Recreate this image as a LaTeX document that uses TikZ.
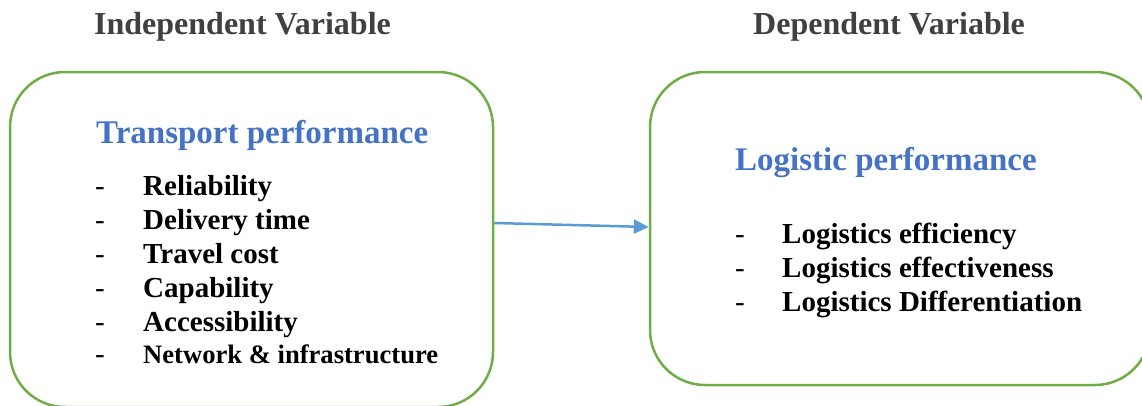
\documentclass[tikz,border=0pt]{standalone}
\usepackage{fontspec}
\setmainfont{Liberation Serif}
\usetikzlibrary{arrows.meta}
\definecolor{boxgreen}{HTML}{70AD47}
\definecolor{arrowblue}{HTML}{5B9BD5}
\definecolor{titleblue}{HTML}{4472C4}
\definecolor{headgray}{HTML}{404040}
\tikzset{
  panel/.style={draw=boxgreen, line width=2.5pt, rounded corners=55pt, inner sep=0pt},
  heading/.style={anchor=base west, inner sep=0pt, text=headgray, font=\fontsize{32}{36}\selectfont\bfseries},
  boxtitle/.style={anchor=base west, inner sep=0pt, text=titleblue, font=\fontsize{33}{38}\selectfont\bfseries},
  item/.style={anchor=base west, inner sep=0pt, font=\fontsize{29}{34}\selectfont\bfseries},
  smallitem/.style={anchor=base west, inner sep=0pt, font=\fontsize{26.6}{31}\selectfont\bfseries},
  bullet/.style={anchor=base west, inner sep=0pt, font=\fontsize{29}{34}\selectfont},
  link/.style={draw=arrowblue, line width=2.5pt, -{Triangle[length=15pt,width=14pt]}}
}
\begin{document}
\begin{tikzpicture}[x=1pt,y=-1pt]
\useasboundingbox (0,0) rectangle (1142,405);

% column headings
\node[heading] (hindep) at (94,34) {Independent Variable};
\node[heading] (hdep) at (753,34) {Dependent Variable};

% the two framed panels
\node[panel, minimum width=483pt, minimum height=335pt] (indep) at (251.5,239.5) {};
\node[panel, minimum width=500pt, minimum height=313pt] (dep) at (900,228.5) {};

% independent variable contents
\node[boxtitle] (ttrans) at (96,143) {Transport performance};
\foreach \y/\t [count=\i] in {195/Reliability, 229/Delivery time, 263/Travel cost, 297/Capability, 331/Accessibility}{
  \node[bullet] (d\i) at (95,\y) {-};
  \node[item] (t\i) at (143,\y) {\t};
}
\node[bullet] (d6) at (95,363) {-};
\node[smallitem] (t6) at (143,363) {Network \& infrastructure};

% dependent variable contents
\node[boxtitle] (tlog) at (735,170) {Logistic performance};
\foreach \y/\t [count=\i] in {243/Logistics efficiency, 277/Logistics effectiveness, 311/Logistics Differentiation}{
  \node[bullet] (e\i) at (735,\y) {-};
  \node[item] (l\i) at (782,\y) {\t};
}

% causal link
\draw[link] ([yshift=16.5pt]indep.east) -- ([yshift=1.5pt]dep.west);
\end{tikzpicture}
\end{document}
